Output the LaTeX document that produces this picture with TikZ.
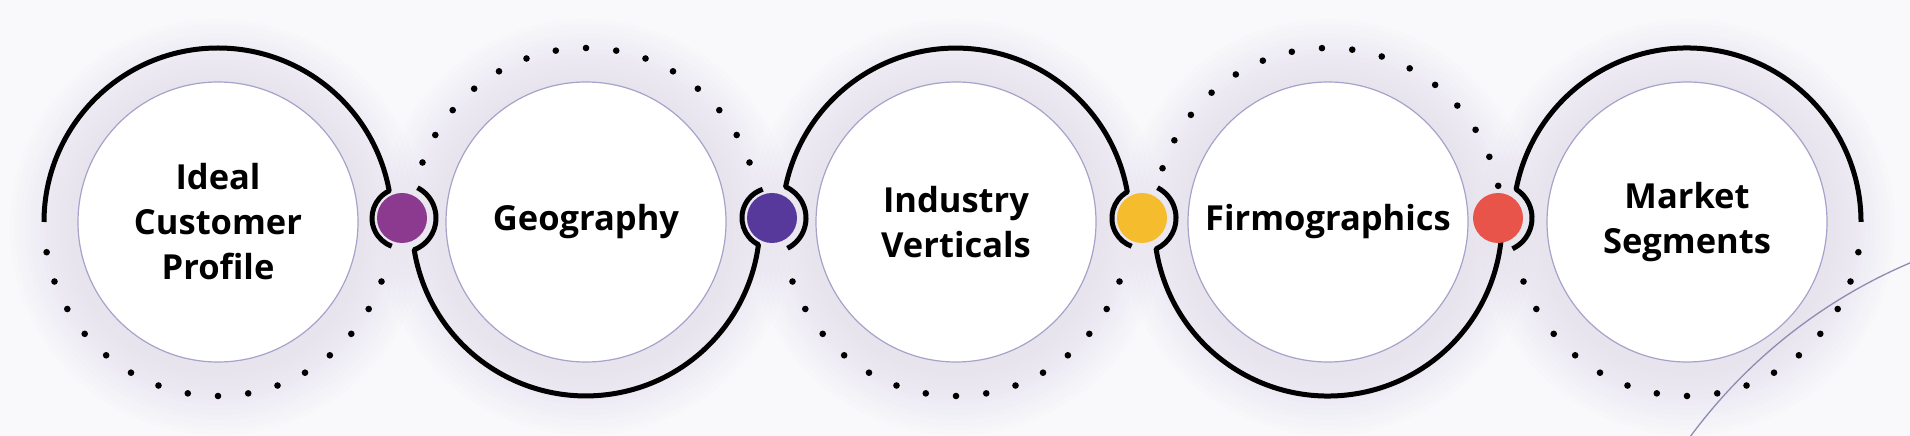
\documentclass[tikz,border=0pt]{standalone}
\usepackage{fontspec}
\setmainfont{Open Sans}
\usepackage{tikz}
\usetikzlibrary{
  calc
}
\definecolor{bgcolor}{RGB}{249, 249, 251}
\definecolor{glowcolor}{RGB}{190, 182, 230}
\definecolor{rimcolor}{RGB}{166, 162, 201}
\definecolor{curvecolor}{RGB}{143, 139, 179}
\definecolor{profilecolor}{RGB}{139, 58, 143}
\definecolor{geocolor}{RGB}{86, 57, 154}
\definecolor{industrycolor}{RGB}{245, 189, 46}
\definecolor{firmocolor}{RGB}{232, 84, 74}
\tikzset{
stagecircle/.style={
  circle,
  draw=rimcolor,
  line width=1.2pt,
  fill=white,
  minimum size=280pt,
  inner sep=0pt,
  align=center,
  font=\fontsize{34.5}{45}\selectfont\bfseries,
  text=black
},
glow/.style={
  fill=glowcolor,
  fill opacity=0.02
},
ringarc/.style={
  draw=black,
  line width=5pt,
  line join=round
},
ringdot/.style={
  fill=black
},
junctiondot/.style={
  circle,
  minimum size=50pt,
  inner sep=0pt
},
thincurve/.style={
  draw=curvecolor,
  line width=1.3pt
}
}

\begin{document}
\begin{tikzpicture}[x=1pt,y=1pt]
        \fill[bgcolor] (0,0) rectangle (1910,436);
        \useasboundingbox (0,0) rectangle (1910,436);
        % centres of the five stages and the four joints
        \coordinate (c1) at (218,214);
        \coordinate (c2) at (586,214);
        \coordinate (c3) at (956,214);
        \coordinate (c4) at (1328,214);
        \coordinate (c5) at (1687,214);
        \coordinate (j1) at (402,218);
        \coordinate (j2) at (772,218);
        \coordinate (j3) at (1142,218);
        \coordinate (j4) at (1498,218);
        % soft halo
        \foreach \c in {c1,c2,c3,c4,c5}
          \foreach \r in {148,153,...,208}
            \fill[glow] ($(\c)+(0,-5)$) circle[radius=\r];
        \begin{scope}
          \clip (0,0) rectangle (1910,436);
          \draw[thincurve] (2117,-315) circle[radius=530];
        \end{scope}
        % stages
        \node[stagecircle] (stage1) at (c1) {Ideal\\Customer\\Profile};
        \node[stagecircle] (stage2) at (c2) {Geography};
        \node[stagecircle] (stage3) at (c3) {Industry\\Verticals};
        \node[stagecircle] (stage4) at (c4) {Firmographics};
        \node[stagecircle] (stage5) at (c5) {Market\\Segments};
        % dotted halves
        \foreach \a in {-170,-160,...,-20}
          \fill[ringdot] ($(c1)+(\a:174)$) circle[radius=3.3];
        \foreach \a in {20,30,...,160}
          \fill[ringdot] ($(c2)+(\a:174)$) circle[radius=3.3];
        \foreach \a in {-160,-150,...,-20}
          \fill[ringdot] ($(c3)+(\a:174)$) circle[radius=3.3];
        \foreach \a in {12,22,...,162}
          \fill[ringdot] ($(c4)+(\a:174)$) circle[radius=3.3];
        \foreach \a in {-160,-150,...,-10}
          \fill[ringdot] ($(c5)+(\a:174)$) circle[radius=3.3];
        % solid halves with the brackets round the joints
        \draw[ringarc] ($(c1)+(180:174)$) arc[start angle=180, end angle=10.3, radius=174]
          arc[start angle=115.3, end angle=250, radius=30];
        \draw[ringarc] ($(j1)+(63:34)$) arc[start angle=63, end angle=-69, radius=34]
          arc[start angle=189.2, end angle=352.5, radius=174]
          arc[start angle=243.2, end angle=108, radius=30];
        \draw[ringarc] ($(j2)+(-63:34)$) arc[start angle=-63, end angle=66.5, radius=34]
          arc[start angle=168.3, end angle=10, radius=174]
          arc[start angle=119.1, end angle=250, radius=30];
        \draw[ringarc] ($(j3)+(63:34)$) arc[start angle=63, end angle=-65.5, radius=34]
          arc[start angle=188.9, end angle=355, radius=174];
        \draw[ringarc] ($(j4)+(-64.8:34)$) arc[start angle=-64.8, end angle=57.8, radius=34]
          arc[start angle=169.15, end angle=0, radius=174];
        % joints
        \node[junctiondot, fill=profilecolor] (dot1) at (j1) {};
        \node[junctiondot, fill=geocolor] (dot2) at (j2) {};
        \node[junctiondot, fill=industrycolor] (dot3) at (j3) {};
        \node[junctiondot, fill=firmocolor] (dot4) at (j4) {};
      \end{tikzpicture}
\end{document}
